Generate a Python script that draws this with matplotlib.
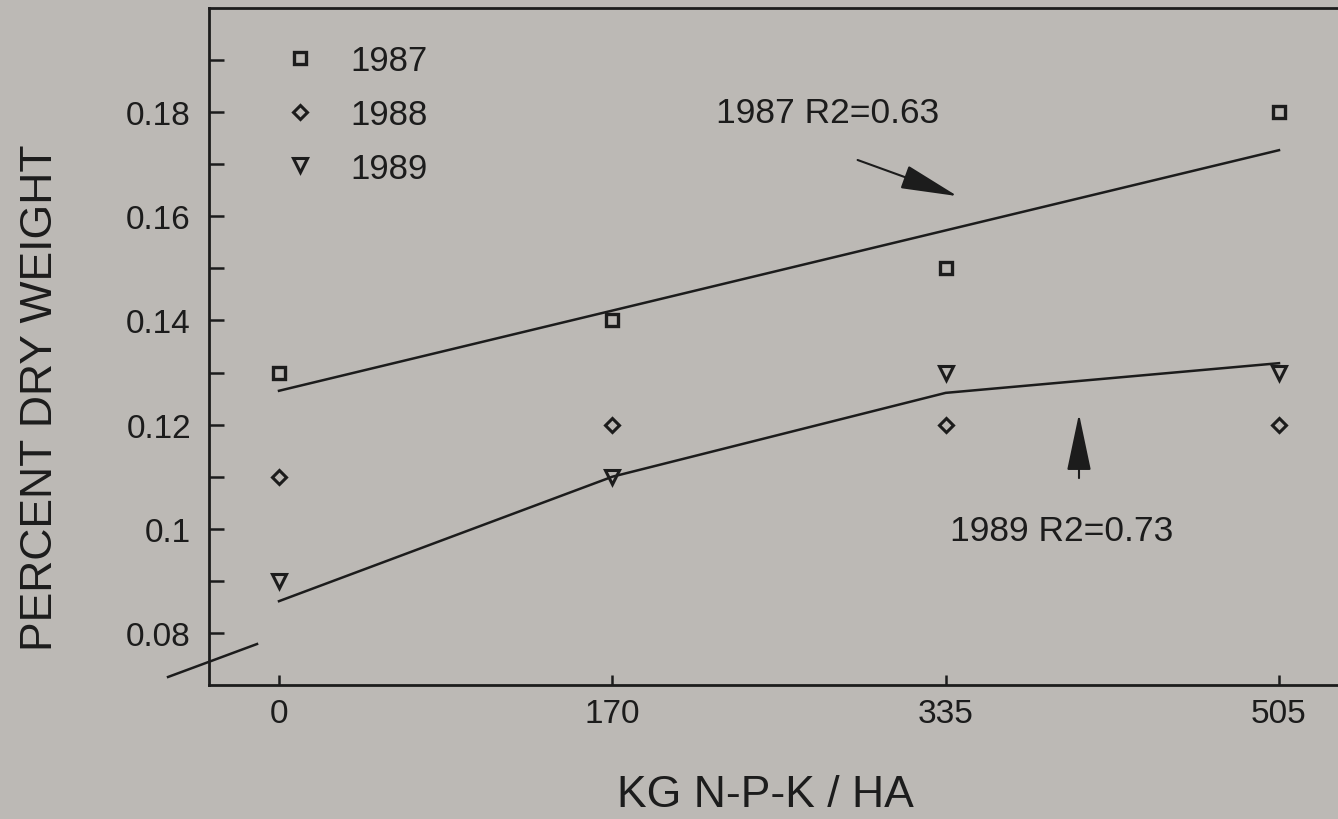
import matplotlib
matplotlib.use("Agg")
import matplotlib.pyplot as plt
from matplotlib.lines import Line2D

plt.rcParams['font.family'] = ['Liberation Sans', 'DejaVu Sans']

# fertiliser rates (evenly spaced on the axis)
rates = ['0', '170', '335', '505']
y1987 = [0.13, 0.14, 0.15, 0.18]
y1988 = [0.11, 0.12, 0.12, 0.12]
y1989 = [0.09, 0.11, 0.13, 0.13]
# fitted curves
fit1987 = [0.1265, 0.1419, 0.1573, 0.1727]
fit1989 = [0.0861, 0.1100, 0.1261, 0.1318]

bg = '#bcb9b5'
ink = '#1c1c1c'

fig = plt.figure(figsize=(13.38, 8.2), dpi=100, facecolor=bg)
ax = fig.add_axes([0.1562, 0.1634, 0.8438, 0.8256], facecolor=bg)

pos = list(range(len(rates)))

ax.plot(pos, fit1987, color=ink, lw=1.8)
ax.plot(pos, fit1989, color=ink, lw=1.8)

s1 = ax.plot(pos, y1987, ls='none', marker='s', ms=9, mfc='none', mec=ink, mew=2.4, label='1987')[0]
s2 = ax.plot(pos, y1988, ls='none', marker='D', ms=7.5, mfc='none', mec=ink, mew=2.2, label='1988')[0]
s3 = ax.plot(pos, y1989, ls='none', marker='v', ms=10, mfc='none', mec=ink, mew=2.2, label='1989')[0]

ax.set_xlim(-0.21, 3.177)
ax.set_ylim(0.07, 0.20)

ax.set_xticks(pos)
ax.set_xticklabels(rates)
ax.set_yticks([0.08, 0.10, 0.12, 0.14, 0.16, 0.18])
ax.set_yticklabels(['0.08', '0.1', '0.12', '0.14', '0.16', '0.18'])
ax.set_yticks([0.09, 0.11, 0.13, 0.15, 0.17, 0.19], minor=True)
ax.tick_params(axis='y', which='both', direction='in', length=11, width=1.8,
               color=ink, labelsize=24, labelcolor=ink, pad=13)
ax.tick_params(axis='x', direction='in', length=7, width=1.8, color=ink,
               labelsize=24, labelcolor=ink, pad=9)

for side in ['left', 'bottom', 'top']:
    ax.spines[side].set_linewidth(2)
    ax.spines[side].set_color(ink)
ax.spines['right'].set_visible(False)

ax.set_xlabel('KG N-P-K / HA', fontsize=32, color=ink)
ax.set_ylabel('PERCENT DRY WEIGHT', fontsize=32, color=ink)
ax.xaxis.set_label_coords(0.4925, -0.1315)
ax.yaxis.set_label_coords(-0.1311, 0.4254)

ax.legend(handles=[s1, s2, s3], loc='upper left', bbox_to_anchor=(0.0529, 0.9675),
          frameon=False, fontsize=25, handlelength=1.0, handletextpad=0.94,
          labelspacing=0.60, labelcolor=ink, borderaxespad=0)

ax.text(1.31, 0.18, '1987 R2=0.63', fontsize=25.5, color=ink, va='center', ha='left')
ax.annotate('', xy=(2.043, 0.1637), xytext=(1.728, 0.171),
            arrowprops=dict(arrowstyle='-|>,head_length=1.8,head_width=0.38',
                            mutation_scale=20, color=ink, lw=1.5))
ax.text(2.013, 0.0996, '1989 R2=0.73', fontsize=25.5, color=ink, va='center', ha='left')
ax.annotate('', xy=(2.4, 0.1226), xytext=(2.4, 0.1092),
            arrowprops=dict(arrowstyle='-|>,head_length=1.8,head_width=0.38',
                            mutation_scale=20, color=ink, lw=1.5))

# axis break mark
fig.add_artist(Line2D([0.1256, 0.1921], [0.1732, 0.2134], color=ink, lw=1.8,
                      transform=fig.transFigure))

fig.savefig('out.png', dpi=100, facecolor=bg)
